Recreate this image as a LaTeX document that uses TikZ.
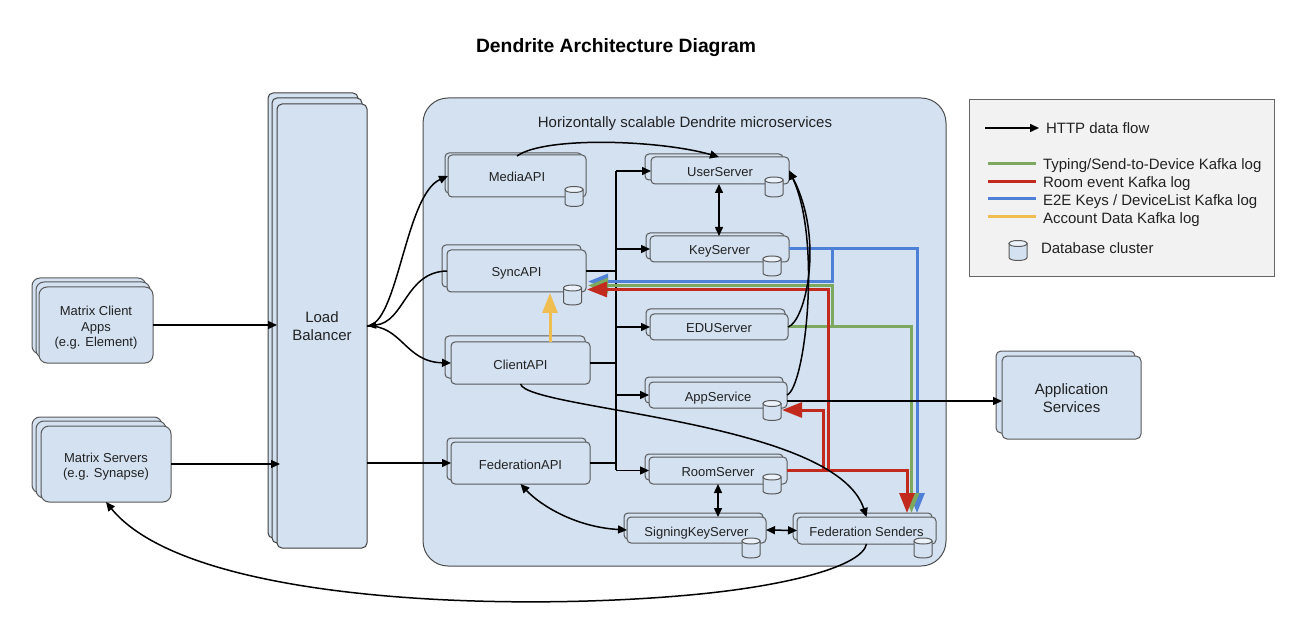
\documentclass[tikz,border=0pt]{standalone}
\usepackage{fontspec}
\setmainfont{Liberation Sans}
\usetikzlibrary{arrows.meta,calc}
\definecolor{boxfill}{HTML}{D3E1F1}
\definecolor{boxline}{HTML}{595959}
\definecolor{txt}{HTML}{222222}
\definecolor{kgreen}{HTML}{7CA95F}
\definecolor{kred}{HTML}{C12A1C}
\definecolor{kblue}{HTML}{4E80D8}
\definecolor{kyellow}{HTML}{F0BE50}
\tikzset{
  boxbase/.style={draw=boxline,line width=1pt,fill=boxfill,rounded corners=4pt,inner sep=0pt,outer sep=0pt,text=txt,align=center,font=\fontsize{13}{15.5}\selectfont},
  bigbox/.style={boxbase,rounded corners=8pt},
  lbbox/.style={boxbase,draw=black!75,rounded corners=5pt,font=\fontsize{15}{18}\selectfont},
  appbox/.style={boxbase,rounded corners=5pt,font=\fontsize{15}{18}\selectfont},
  dbbody/.style={draw=boxline,line width=1pt,fill=boxfill},
  dbtop/.style={draw=boxline,line width=1pt,fill=boxfill!45!white},
  http/.style={draw=black,line width=1.5pt,-{Triangle[length=9pt,width=8pt]}},
  httpback/.style={draw=black,line width=1.5pt,{Triangle[length=9pt,width=7pt]}-},
  httpline/.style={draw=black,line width=1.5pt},
  httptwo/.style={draw=black,line width=1.5pt,{Triangle[length=9pt,width=8pt]}-{Triangle[length=9pt,width=8pt]}},
  klog/.style={line width=3pt,line join=miter},
  kloghead/.style={klog,-{Triangle[length=20pt,width=15pt]}},
  legtext/.style={inner sep=0pt,outer sep=0pt,anchor=base west,text=txt,font=\fontsize{15}{17}\selectfont},
}
\newcommand\bx[7][boxbase]{\node[#1,minimum width={(#5-#3)*1pt},minimum height={(#6-#4)*1pt}] (#2) at ({(#3+#5)/2},{(#4+#6)/2}) {\rule{0pt}{15pt}#7\rule[-3pt]{0pt}{3pt}};}
\newcommand\db[3]{\coordinate (#1) at (#2,#3);
  \begin{scope}[shift={(#1)}]
    \draw[dbbody] (-9,-7) -- (-9,7) .. controls (-9,11) and (9,11) .. (9,7) -- (9,-7) -- cycle;
    \draw[dbtop] (-9,-7) .. controls (-9,-11) and (9,-11) .. (9,-7) .. controls (9,-3) and (-9,-3) .. (-9,-7) -- cycle;
  \end{scope}}
\begin{document}
\begin{tikzpicture}[x=1pt,y=-1pt]
\useasboundingbox (0,0) rectangle (1296,628);
\node[inner sep=0pt,anchor=base,font=\fontsize{19.3}{21}\bfseries\selectfont] (title) at (616,53) {Dendrite Architecture Diagram};
% outer panel
\bx[boxbase,rounded corners=25pt,draw=black!70]{panel}{423}{98}{946}{566}{}
\node[inner sep=0pt,anchor=base,text=txt,font=\fontsize{15}{17}\selectfont] (paneltitle) at (685,127.7) {Horizontally scalable Dendrite microservices};
% left stacks
\bx[bigbox]{clA}{32}{278}{146}{354}{}
\bx[bigbox]{clB}{36}{282}{150}{358}{}
\bx[bigbox]{client}{39}{287}{153}{363}{Matrix Client\\Apps\\(e.g. Element)}
\bx[bigbox]{msA}{32}{417}{162}{493}{}
\bx[bigbox]{msB}{36}{421}{166}{498}{}
\bx[bigbox]{mserv}{41}{426}{171}{502}{Matrix Servers\\(e.g. Synapse)}
% load balancer
\bx[lbbox]{lbA}{268}{93}{358}{538}{}
\bx[lbbox]{lbB}{272}{98}{362}{543}{}
\bx[lbbox]{lb}{277}{104}{367}{548}{Load\\Balancer}
% services
\bx{mediaB}{445}{153}{582}{193}{}
\bx{media}{448}{155}{586}{197}{MediaAPI}
\db{mediaDB}{574}{196.5}
\bx{syncB}{442}{245}{581}{287}{}
\bx{sync}{447}{250}{586}{292}{SyncAPI}
\db{syncDB}{572.5}{295}
\bx{capiB}{445}{336}{585}{378}{}
\bx{capi}{451}{342}{590}{384}{ClientAPI}
\bx{fapiB}{447}{438}{586}{480}{}
\bx{fapi}{451}{442}{590}{484}{FederationAPI}
\bx{userB}{645}{154}{783}{180}{}
\bx{user}{651}{157}{789}{184}{UserServer}
\db{userDB}{774}{187}
\bx{keyB}{646}{233}{784}{259}{}
\bx{key}{650}{236}{789}{262}{KeyServer}
\db{keyDB}{772}{266}
\bx{eduB}{646}{309}{785}{336}{}
\bx{edu}{650}{314}{788}{340}{EDUServer}
\bx{appB}{645}{377}{783}{403}{}
\bx{app}{649}{382}{787}{408}{AppService}
\db{appDB}{772}{410.5}
\bx{roomB}{645}{454}{783}{480}{}
\bx{room}{649}{457}{787}{484}{RoomServer}
\db{roomDB}{772}{484}
\bx{signB}{624}{513}{763}{539}{}
\bx{sign}{627}{517}{766}{543}{SigningKeyServer}
\db{signDB}{751}{548}
\bx{fsendB}{793}{513}{932}{540}{}
\bx{fsend}{797}{517}{936}{544}{Federation Senders}
\db{fsendDB}{923}{548}
% application services
\bx[appbox]{asB}{996}{351}{1135}{433}{}
\bx[appbox]{as}{1002}{356}{1141}{439}{Application\\Services}
% bus
\coordinate (busTop) at (616,171);
\coordinate (busEnd) at (616,470);
\draw[httpline] (busTop) -- (busEnd);
\coordinate (bus) at (616,300);
\draw[http] (busTop) -- (user.west |- busTop);
\draw[http] (key.west -| bus) -- (key.west);
\draw[http] (edu.west -| bus) -- (edu.west);
\draw[http] (app.west -| bus) -- (app.west);
\draw[http] (room.west -| bus) -- (room.west);
\draw[httpline] (sync.east) -- (sync.east -| bus);
\draw[httpline] (capi.east) -- (capi.east -| bus);
\draw[httpline] (fapi.east) -- (fapi.east -| bus);
% kafka logs
\coordinate (syncBlue) at (588,281.5);
\coordinate (syncGreen) at (588,285.5);
\coordinate (syncRed) at (587,289.5);
\coordinate (blueJ) at (832.5,249);
\coordinate (greenJ) at (832.5,327);
\coordinate (redJ) at (828,470);
\coordinate (redK) at (823,470);
\coordinate (appTip) at (782,410);
\coordinate (fsBlue) at (917,513);
\coordinate (fsGreen) at (911.5,513);
\coordinate (fsRed) at (907,513);
\coordinate (yellowTip) at (550,293);
\draw[kloghead,draw=kblue] (key.east) -| (fsBlue);
\draw[kloghead,draw=kblue] (blueJ) |- (syncBlue);
\draw[kloghead,draw=kgreen] (edu.east) -| (fsGreen);
\draw[kloghead,draw=kgreen] (greenJ) |- (syncGreen);
\draw[kloghead,draw=kred] (room.east) -| (fsRed);
\draw[kloghead,draw=kred] (redJ) |- (syncRed);
\draw[kloghead,draw=kred] (redK) |- (appTip);
\draw[kloghead,draw=kyellow] (capi.north -| yellowTip) -- (yellowTip);
% http
\draw[http] (client.east) -- (client.east -| lb.west);
\draw[http] (mserv.east) -- ([xshift=3pt]mserv.east -| lb.west);
\draw[http] (fapi.west -| lb.east) -- (fapi.west);
\draw[http] (lb.east) .. controls (398,325) and (405,195) .. (media.west);
\draw[httpback] (lb.east) .. controls (405,322) and (405,272) .. (sync.west);
\draw[http] (lb.east) .. controls (402,325) and (405,362) .. (capi.west);
\draw[http] ([yshift=-1pt]media.north) .. controls (545,136) and (660,140) .. (user.north -| 719,0);
\draw[httptwo] (user.south -| 719,0) -- (key.north -| 719,0);
\draw[httptwo] (room.south -| 718,0) -- (sign.north -| 718,0);
\draw[httptwo] (sign.east) -- (fsend.west);
\draw[httptwo] (fapi.south) .. controls (540,505) and (575,527) .. (sign.west);
\draw[http] (capi.south) .. controls (528,410) and (835,420) .. (fsend.north);
\draw[http] (edu.east) .. controls (805,322) and (825,240) .. (user.east);
\draw[http] (app.east) .. controls (805,388) and (822,240) .. (user.east);
\draw[http] ([yshift=-6pt]app.east) -- ([yshift=-6pt]app.east -| as.west);
\draw[http] (fsend.south) .. controls (862,566) and (790,585) .. (700,594) .. controls (520,612) and (190,605) .. (mserv.south);
% legend
\bx[boxbase,rounded corners=0pt,fill=black!5,draw=black!60]{legend}{969}{100}{1274}{277}{}
\coordinate (lgA) at (985,128);
\coordinate (lgB) at (1039,128);
\draw[http] (lgA) -- (lgB);
\node[legtext] (lgHttp) at (1046,133.7) {HTTP data flow};
\coordinate (lgGa) at (988,164); \coordinate (lgGb) at (1036,164);
\draw[klog,draw=kgreen] (lgGa) -- (lgGb);
\node[legtext] (lgGreen) at (1043,169.7) {Typing/Send-to-Device Kafka log};
\coordinate (lgRa) at (988,182); \coordinate (lgRb) at (1036,182);
\draw[klog,draw=kred] (lgRa) -- (lgRb);
\node[legtext] (lgRed) at (1043,187.5) {Room event Kafka log};
\coordinate (lgBa) at (988,199); \coordinate (lgBb) at (1036,199);
\draw[klog,draw=kblue] (lgBa) -- (lgBb);
\node[legtext] (lgBlue) at (1043,205.3) {E2E Keys / DeviceList Kafka log};
\coordinate (lgYa) at (988,217); \coordinate (lgYb) at (1036,217);
\draw[klog,draw=kyellow] (lgYa) -- (lgYb);
\node[legtext] (lgYellow) at (1043,223.3) {Account Data Kafka log};
\db{lgDB}{1018}{250.5}
\node[legtext] (lgDb) at (1041,253.7) {Database cluster};
\end{tikzpicture}
\end{document}
